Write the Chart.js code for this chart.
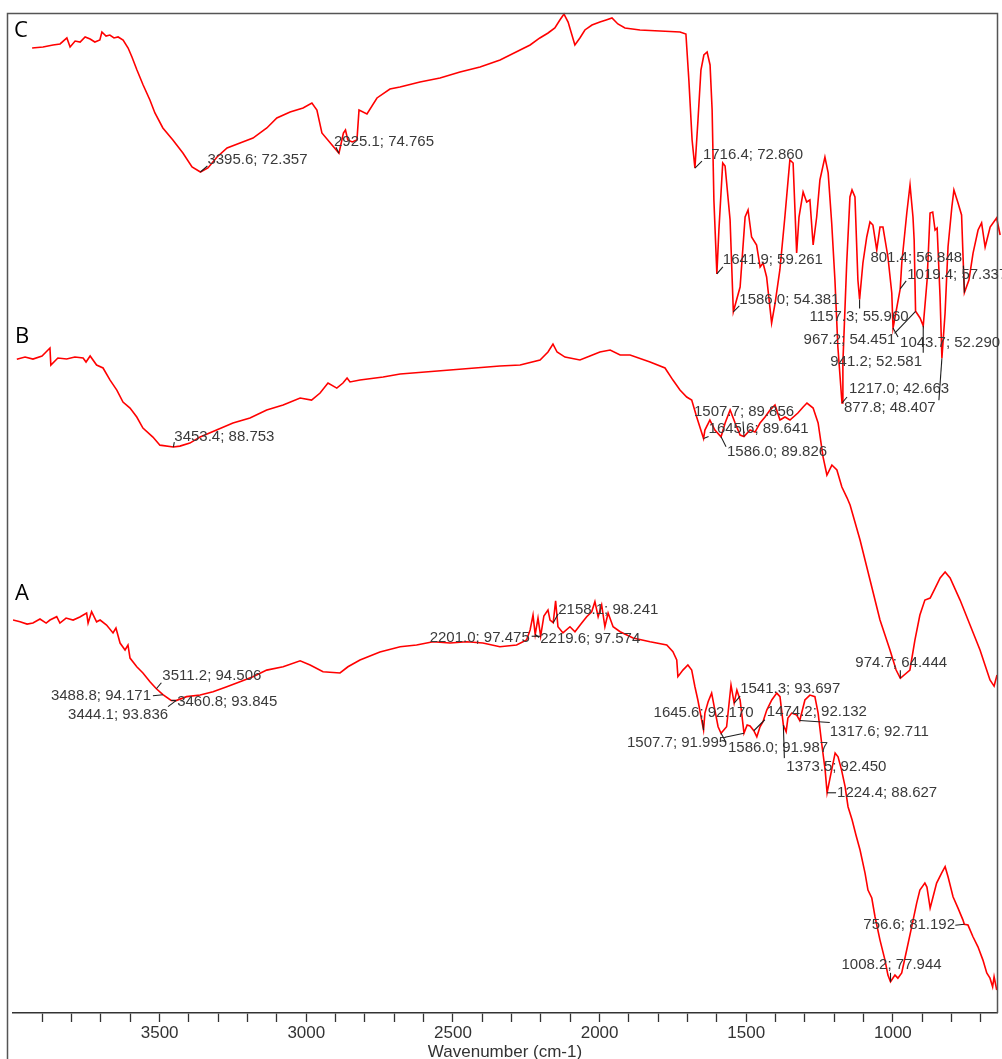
<!DOCTYPE html>
<html>
<head>
<meta charset="utf-8">
<title>FTIR spectra</title>
<script src="https://cdn.jsdelivr.net/npm/chart.js@4.4.1/dist/chart.umd.min.js"></script>
<style>
  html, body { margin: 0; padding: 0; background: #ffffff; }
  canvas { display: block; }
</style>
</head>
<body>
<canvas id="spectra" width="1002" height="1059"></canvas>
<script>
// ---- Spectrum C (wavenumber cm-1, %T) ----
const cWave = [3967,3930,3896,3872,3849,3838,3821,3804,3787,3770,
  3754,3737,3730,3716,3703,3689,3675,3658,3641,3628,
  3611,3590,3567,3550,3523,3489,3455,3424,3395.6,3370,
  3339,3305,3261,3217,3170,3136,3091,3047,3017,3000,
  2983,2925.1,2910,2903,2895,2880,2864,2857,2830,2796,
  2752,2718,2650,2582,2514,2446,2378,2310,2276,2243,
  2215,2192,2175,2161,2147,2134,2124,2107,2090,2066,
  2039,2018,1998,1978,1954,1903,1835,1767,1747,1737,
  1726,1716.4,1706,1696,1686,1675,1665,1658,1652,1641.9,
  1635,1622,1614,1597,1586.0,1563,1546,1536,1524,1507,
  1495,1485,1473,1456,1444,1428,1411,1394,1383,1371,
  1363,1349,1337,1326,1315,1303,1292,1275,1264,1252,
  1241,1231,1217.0,1214,1201,1190,1183,1173,1163,1157.3,
  1146,1133,1122,1112,1099,1088,1078,1061,1048,1043.7,
  1019.4,1014,997,986,976,972,967.2,952,941.2,928,
  918,909,901,894,884,877.8,867,857,844,837,
  823,811,806,801.4,786,772,755,743,731,714,
  692,680];
const cTrans = [88.29,88.42,88.68,88.81,89.58,88.42,89.19,89.06,89.71,89.45,
  89.06,89.32,90.35,89.83,89.96,89.58,89.71,89.32,88.29,87.13,
  85.46,83.54,81.61,79.94,78.01,76.47,74.80,73.00,72.357,72.87,
  74.28,75.44,76.08,76.72,78.01,79.29,80.07,80.58,81.22,80.32,
  77.37,74.765,77.37,77.75,76.47,76.21,76.47,80.32,79.81,81.87,
  83.02,83.28,83.92,84.44,85.21,85.85,86.75,88.03,88.68,89.58,
  90.22,90.86,91.89,92.66,91.63,89.96,88.68,89.58,90.61,91.25,
  91.63,91.89,92.15,91.38,90.86,90.61,90.48,90.35,90.09,84.18,
  76.47,72.860,79.04,85.46,87.39,87.78,86.11,80.32,68.76,59.261,
  64.90,73.51,73.12,66.18,54.381,57.57,66.57,67.47,64.00,62.97,
  60.14,60.66,58.86,52.95,55.52,59.76,66.57,73.90,73.51,61.94,
  66.57,69.78,68.50,68.76,62.97,66.57,71.33,74.28,72.23,65.80,
  58.47,49.86,42.663,47.80,60.66,69.14,70.04,69.14,58.47,55.960,
  60.66,64.00,65.93,65.54,62.33,65.28,65.28,61.43,56.80,52.290,
  57.337,60.66,67.08,70.68,66.57,63.61,54.451,53.59,52.581,58.47,
  67.08,67.21,64.90,65.16,56.29,48.407,54.23,62.71,67.86,70.04,
  68.37,66.83,61.5,56.848,58.47,61.94,64.90,65.80,62.71,65.28,
  66.44,64.26];

// ---- Spectrum B ----
const bWave = [3987,3959,3932,3901,3874,3871,3847,3817,3789,3761,
  3751,3737,3715,3693,3669,3646,3625,3601,3578,3557,
  3523,3499,3453.4,3431,3397,3362,3306,3250,3192,3135,
  3079,3021,2982,2953,2926,2896,2875,2861,2851,2817,
  2738,2680,2510,2340,2271,2203,2176,2159,2145,2118,
  2067,2033,1999,1964,1930,1896,1828,1777,1750,1726,
  1703,1686,1669,1645.6,1641,1624,1607,1586.0,1572,1555,
  1538,1521,1507.7,1487,1470,1453,1436,1419,1402,1385,
  1368,1351,1324,1306,1293,1272,1255,1238,1225,1208,
  1191,1174,1156,1146,1112,1078,1044,1010,989,974.7,
  942,925,908,891,873,856,839,822,805,771,
  737,703,686,669,655,645];
const bTrans = [97.97,98.21,98.00,98.32,99.16,97.37,98.11,98.00,98.21,98.11,
  97.69,98.32,97.37,97.06,95.79,94.74,93.48,92.85,91.91,90.75,
  89.80,88.95,88.753,88.85,89.17,89.80,90.54,91.28,91.80,92.64,
  93.17,93.90,93.69,94.43,95.48,94.95,95.48,96.01,95.59,95.79,
  96.11,96.43,96.85,97.27,97.37,97.90,98.74,99.58,98.74,98.21,
  97.90,98.32,98.74,98.95,98.42,98.42,97.69,97.06,95.79,94.74,
  94.01,93.69,91.91,89.641,90.54,91.59,90.54,89.826,91.28,92.64,
  91.28,90.01,89.856,90.54,90.33,91.28,91.91,92.64,93.17,91.59,
  91.91,91.59,92.33,92.96,93.38,92.85,91.28,87.70,85.81,86.86,
  86.34,84.55,83.39,82.66,78.98,74.78,70.57,67.42,65.32,64.444,
  65.32,68.47,71.10,72.67,72.88,73.93,74.99,75.62,74.99,72.67,
  70.05,67.42,65.84,64.27,63.63,64.79];

// ---- Spectrum A ----
const aWave = [4000,3976,3952,3932,3908,3887,3874,3851,3840,3819,
  3795,3772,3749,3744,3732,3715,3703,3681,3659,3649,
  3635,3618,3608,3601,3578,3557,3533,3511.2,3488.8,3460.8,
  3444.1,3408,3362,3318,3271,3226,3182,3135,3079,3021,
  2987,2943,2885,2858,2817,2749,2680,2624,2568,2510,
  2453,2398,2340,2283,2249,2237,2227,2219.6,2210,2201.0,
  2190,2176,2169,2158.1,2150,2142,2125,2101,2084,2061,
  2044,2027,2016,2005,1993,1982,1971,1954,1930,1886,
  1828,1771,1750,1737,1733,1716,1699,1686,1675,1665,
  1645.6,1641,1630,1618,1607,1596,1586.0,1567,1552,1541.3,
  1532,1521,1507.7,1497,1487,1474.2,1464,1453,1443,1430,
  1413,1396,1385,1373.5,1364,1358,1345,1328,1317.6,1300,
  1283,1266,1255,1243,1231,1224.4,1209,1197,1187,1175,
  1163,1153,1139,1126,1112,1095,1085,1072,1061,1044,
  1027,1017,1008.2,993,983,970,953,936,919,908,
  891,884,873,863,851,834,822,812,795,778,
  761,756.6,744,727,710,693,680,669,660,655,
  646];
const aTrans = [98.39,98.29,98.16,98.22,98.45,98.22,98.39,98.58,98.22,98.50,
  98.39,98.56,98.79,98.22,98.86,98.29,98.39,98.11,97.66,97.94,
  97.09,96.70,96.98,96.24,95.75,95.40,94.90,94.506,94.171,93.845,
  93.836,94.06,94.15,94.34,94.62,94.90,95.19,95.56,95.75,96.09,
  95.85,95.47,95.40,95.75,96.13,96.58,96.88,96.98,97.16,97.09,
  97.16,97.09,96.88,96.98,97.26,97.83,98.67,97.574,98.50,97.475,
  98.62,98.96,98.39,98.241,99.48,98.01,97.66,98.01,97.73,98.22,
  98.58,98.86,99.43,98.58,99.24,98.01,98.79,98.01,97.73,97.37,
  97.16,96.98,96.60,96.13,95.19,95.56,95.85,95.56,94.62,93.87,
  92.170,93.13,93.77,94.26,93.30,92.36,91.987,92.36,94.72,93.697,
  94.43,93.87,91.995,92.46,92.40,92.132,91.79,92.36,92.64,93.30,
  93.87,94.26,94.06,92.450,92.08,92.85,93.13,93.02,92.711,93.87,
  94.15,94.06,93.13,91.44,89.91,88.627,89.91,90.87,90.66,89.91,
  88.97,87.84,87.09,86.24,85.39,84.09,83.13,82.68,81.62,80.30,
  79.17,78.32,77.944,78.32,78.15,78.44,79.74,81.05,82.39,83.13,
  83.52,83.30,82.11,82.75,83.52,84.09,84.45,83.88,82.75,82.11,
  81.43,81.192,81.15,80.49,79.92,79.17,78.44,78.15,77.66,78.23,
  77.48];

// ---- Peak picks (wavenumber, %T) ----
const cPeakWave  = [3395.6, 2925.1, 1716.4, 1641.9, 1586.0, 1157.3, 967.2, 801.4, 1019.4, 1043.7, 941.2, 1217.0, 877.8];
const cPeakTrans = [72.357, 74.765, 72.860, 59.261, 54.381, 55.960, 54.451, 56.848, 57.337, 52.290, 52.581, 42.663, 48.407];
const bPeakWave  = [3453.4, 1507.7, 1645.6, 1586.0, 974.7];
const bPeakTrans = [88.753, 89.856, 89.641, 89.826, 64.444];
const aPeakWave  = [3511.2, 3488.8, 3460.8, 3444.1, 2201.0, 2219.6, 2158.1, 1645.6, 1541.3, 1507.7, 1586.0, 1474.2, 1373.5, 1317.6, 1224.4, 1008.2, 756.6];
const aPeakTrans = [94.506, 94.171, 93.845, 93.836, 97.475, 97.574, 98.241, 92.170, 93.697, 91.995, 91.987, 92.132, 92.450, 92.711, 88.627, 77.944, 81.192];

// ---- Axis ticks ----
const xTickValues = [3900, 3800, 3700, 3600, 3500, 3400, 3300, 3200, 3100, 3000, 2900, 2800, 2700, 2600, 2500, 2400, 2300, 2200, 2100, 2000, 1900, 1800, 1700, 1600, 1500, 1400, 1300, 1200, 1100, 1000, 900, 800, 700];
const xTickLabels = [3500, 3000, 2500, 2000, 1500, 1000];
const xTitle = 'Wavenumber (cm-1)';
const panelNames = ['C', 'B', 'A'];

// ---- Layout (pixels): label text offset [dx, dy] and leader end [dx, dy] from each peak ----
const cNoteLayout = [[7,-12,7,-6],[-5,-11,-3,-6],[8,-13,7,-7],[6,-14,6,-7],[6,-12,6,-6],[-50,17,0,9],[-112,29,-21,22],[-94,-35,-1,-27],[7,-14,6,-8],[7,15,5,9],[-93,36,0,27],[7,-14,5,-6],[-98,50,-3,42]];
const bNoteLayout = [[1,-10,1,-5],[-50,-25,-1,-15],[5,-10,5,-2],[6,15,5,10],[-45,-15,0,-8]];
const aNoteLayout = [[6,-13,5,-6],[-112,1,-10,1],[6,1,5,0],[-108,14,-8,6],[-111,2,-9,0],[5,4,4,3],[5,-13,5,-9],[-50,-17,-1,-10],[6,-14,6,-7],[-117,10,-19,4],[7,15,5,9],[13,-19,11,-11],[3,42,1,33],[30,11,30,2],[10,0,9,0],[-49,-17,0,-9],[-101,1,-9,1]];
const panelNamePos = [[14, 37], [15, 343], [15, 600]];

const FONT = '"Liberation Sans", Arial, Helvetica, sans-serif';
const toPoints = (w, t) => w.map((v, i) => ({ x: v, y: t[i] }));

const noteGroups = [
  { x: 'xC', y: 'yC', wave: cPeakWave, trans: cPeakTrans, layout: cNoteLayout },
  { x: 'x',  y: 'yB', wave: bPeakWave, trans: bPeakTrans, layout: bNoteLayout },
  { x: 'x',  y: 'yA', wave: aPeakWave, trans: aPeakTrans, layout: aNoteLayout }
];

// Frame, panel names and peak annotations drawn over the spectra
const spectrumNotes = {
  id: 'spectrumNotes',
  afterDatasetsDraw(chart) {
    const ctx = chart.ctx;
    const area = chart.chartArea;
    ctx.save();

    ctx.strokeStyle = '#555555';
    ctx.lineWidth = 1.5;
    ctx.beginPath();
    ctx.moveTo(area.left - 5.5, chart.height);
    ctx.lineTo(area.left - 5.5, area.top + 0.5);
    ctx.lineTo(area.right + 0.5, area.top + 0.5);
    ctx.lineTo(area.right + 0.5, area.bottom);
    ctx.stroke();

    ctx.fillStyle = '#000000';
    ctx.font = '22px "Open Sans", "Liberation Sans", sans-serif';
    ctx.textAlign = 'left';
    ctx.textBaseline = 'alphabetic';
    panelNames.forEach((n, i) => ctx.fillText(n, panelNamePos[i][0], panelNamePos[i][1]));

    ctx.font = '15px ' + FONT;
    ctx.textBaseline = 'middle';
    noteGroups.forEach(g => {
      const xs = chart.scales[g.x], ys = chart.scales[g.y];
      g.wave.forEach((w, i) => {
        const t = g.trans[i];
        const px = xs.getPixelForValue(w), py = ys.getPixelForValue(t);
        const [tx, ty, lx, ly] = g.layout[i];
        ctx.strokeStyle = '#1e1e1e';
        ctx.lineWidth = 1.1;
        ctx.beginPath();
        ctx.moveTo(px, py);
        ctx.lineTo(px + lx, py + ly);
        ctx.stroke();
        ctx.fillStyle = '#3a3a3a';
        ctx.fillText(w.toFixed(1) + '; ' + t.toFixed(3), px + tx, py + ty);
      });
    });
    ctx.restore();
  }
};

const lineStyle = { borderColor: '#ff0000', borderWidth: 1.6, pointRadius: 0, tension: 0, fill: false };

new Chart(document.getElementById('spectra'), {
  type: 'line',
  data: {
    datasets: [
      Object.assign({ label: 'C', data: toPoints(cWave, cTrans), xAxisID: 'xC', yAxisID: 'yC', clip: false }, lineStyle),
      Object.assign({ label: 'B', data: toPoints(bWave, bTrans), xAxisID: 'x', yAxisID: 'yB' }, lineStyle),
      Object.assign({ label: 'A', data: toPoints(aWave, aTrans), xAxisID: 'x', yAxisID: 'yA' }, lineStyle)
    ]
  },
  options: {
    responsive: false,
    devicePixelRatio: 1,
    animation: false,
    layout: { padding: { left: 13, right: 5, top: 13, bottom: 0 } },
    plugins: { legend: { display: false }, tooltip: { enabled: false } },
    scales: {
      x: {
        type: 'linear', axis: 'x', position: 'bottom', reverse: true,
        min: 645.1, max: 4000,
        afterBuildTicks: ax => { ax.ticks = xTickValues.map(v => ({ value: v })); },
        afterFit: s => { s.height = 46; },
        ticks: {
          autoSkip: false, maxRotation: 0, padding: 1,
          color: '#333333',
          font: { family: FONT, size: 17 },
          callback: v => (xTickLabels.includes(v) ? String(v) : '')
        },
        grid: { drawOnChartArea: false, drawTicks: true, tickLength: 9, tickColor: '#333333', tickWidth: 1.3 },
        border: { display: true, color: '#333333', width: 1.6 },
        title: {
          display: true, text: xTitle, color: '#333333',
          font: { family: FONT, size: 17, lineHeight: 0.8 },
          padding: { top: 0, bottom: 0 }
        }
      },
      xC: { type: 'linear', axis: 'x', position: 'bottom', reverse: true, min: 690.7, max: 4031.9, display: false },
      yC: { type: 'linear', axis: 'y', min: -35.74, max: 92.79, display: false },
      yB: { type: 'linear', axis: 'y', min: 29.27, max: 134.37, display: false },
      yA: { type: 'linear', axis: 'y', min: 76.18, max: 132.70, display: false }
    }
  },
  plugins: [spectrumNotes]
});
</script>
</body>
</html>
